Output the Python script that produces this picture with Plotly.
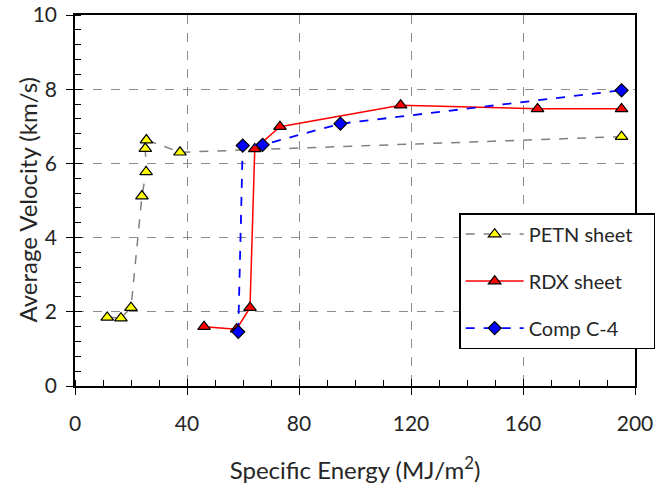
import plotly.graph_objects as go

petn_x = [11.5, 16.4, 20.0, 23.9, 25.4, 25.1, 25.5, 37.5, 195.2]
petn_y = [1.85, 1.83, 2.11, 5.12, 5.77, 6.40, 6.63, 6.30, 6.72]

rdx_x = [46.1, 57.7, 62.5, 64.2, 73.2, 116.3, 165.2, 195.2]
rdx_y = [1.60, 1.53, 2.11, 6.39, 6.99, 7.57, 7.47, 7.47]

c4_x = [58.3, 59.9, 67.0, 94.8, 195.2]
c4_y = [1.46, 6.48, 6.50, 7.07, 7.97]

names = ["PETN sheet", "RDX sheet", "Comp C-4"]
xticks = [0, 40, 80, 120, 160, 200]
yticks = [0, 2, 4, 6, 8, 10]

FONT = "Lato, 'Open Sans', sans-serif"
TXT = "#262626"
NB = "\u00a0"

fig = go.Figure()
fig.add_trace(go.Scatter(
    x=petn_x, y=petn_y, name=names[0] + NB * 3, mode="lines+markers",
    line=dict(color="#808080", width=1.5, dash="dash"),
    marker=dict(symbol="triangle-up", size=11, color="#FFFF00",
                line=dict(color="black", width=1.2)),
    legendgroup="a"))
fig.add_trace(go.Scatter(
    x=rdx_x, y=rdx_y, name=names[1], mode="lines+markers",
    line=dict(color="#FF0000", width=1.5),
    marker=dict(symbol="triangle-up", size=11, color="#FF0000",
                line=dict(color="black", width=1.2)),
    legendgroup="b"))
fig.add_trace(go.Scatter(
    x=c4_x, y=c4_y, name=names[2], mode="lines+markers",
    line=dict(color="#0000FF", width=1.8, dash="dash"),
    marker=dict(symbol="diamond", size=10, color="#0000FF",
                line=dict(color="black", width=1.2)),
    legendgroup="c"))

# invisible trace on overlay axes for inside major ticks (cross ticks)
fig.add_trace(go.Scatter(x=[None], y=[None], xaxis="x2", yaxis="y2",
                         showlegend=False, hoverinfo="skip"))

fig.update_layout(
    width=664, height=488,
    margin=dict(l=75, r=29, t=15, b=102, autoexpand=False),
    paper_bgcolor="white", plot_bgcolor="white",
    font=dict(family=FONT, color=TXT, size=20),
    xaxis=dict(
        range=[0, 200], tickvals=xticks, automargin=False,
        showgrid=True, gridcolor="#8c8c8c", griddash="dash", gridwidth=1,
        showline=True, linecolor="black", linewidth=1.5, mirror=True,
        ticks="outside", ticklen=7, tickcolor="black",
        ticklabelstandoff=11,
        minor=dict(dtick=10, tick0=0, ticks="inside", ticklen=6, tickcolor="black", showgrid=False),
        zeroline=False,
        title=dict(text="Specific Energy (MJ/m<sup>2</sup>)", font=dict(size=24), standoff=28),
        tickfont=dict(size=21),
    ),
    yaxis=dict(
        range=[0, 10], tickvals=yticks, automargin=False,
        showgrid=True, gridcolor="#8c8c8c", griddash="dash", gridwidth=1,
        showline=True, linecolor="black", linewidth=1.5, mirror=True,
        ticks="outside", ticklen=7, tickcolor="black",
        ticklabelstandoff=5,
        minor=dict(dtick=0.4, tick0=0, ticks="inside", ticklen=6, tickcolor="black", showgrid=False),
        zeroline=False,
        tickfont=dict(size=21),
    ),
    xaxis2=dict(overlaying="x", range=[0, 200], tickvals=xticks,
                ticks="inside", ticklen=7, tickcolor="black", showticklabels=False,
                showgrid=False, zeroline=False, showline=False, anchor="y2", side="bottom"),
    yaxis2=dict(overlaying="y", range=[0, 10], tickvals=yticks,
                ticks="inside", ticklen=7, tickcolor="black", showticklabels=False,
                showgrid=False, zeroline=False, showline=False, anchor="x2", side="left"),
    legend=dict(
        x=0.686, y=0.466, xanchor="left", yanchor="top",
        bgcolor="white", bordercolor="black", borderwidth=1.5,
        font=dict(size=20, color=TXT), tracegroupgap=18, itemwidth=58,
    ),
    showlegend=True,
    annotations=[dict(
        text="Average Velocity (km/s)", textangle=-90,
        xref="paper", yref="paper", x=(27 - 75) / 560, y=0.5,
        xanchor="center", yanchor="middle", showarrow=False,
        font=dict(size=24, color=TXT, family=FONT),
    )],
)

fig.write_html("out.html")
